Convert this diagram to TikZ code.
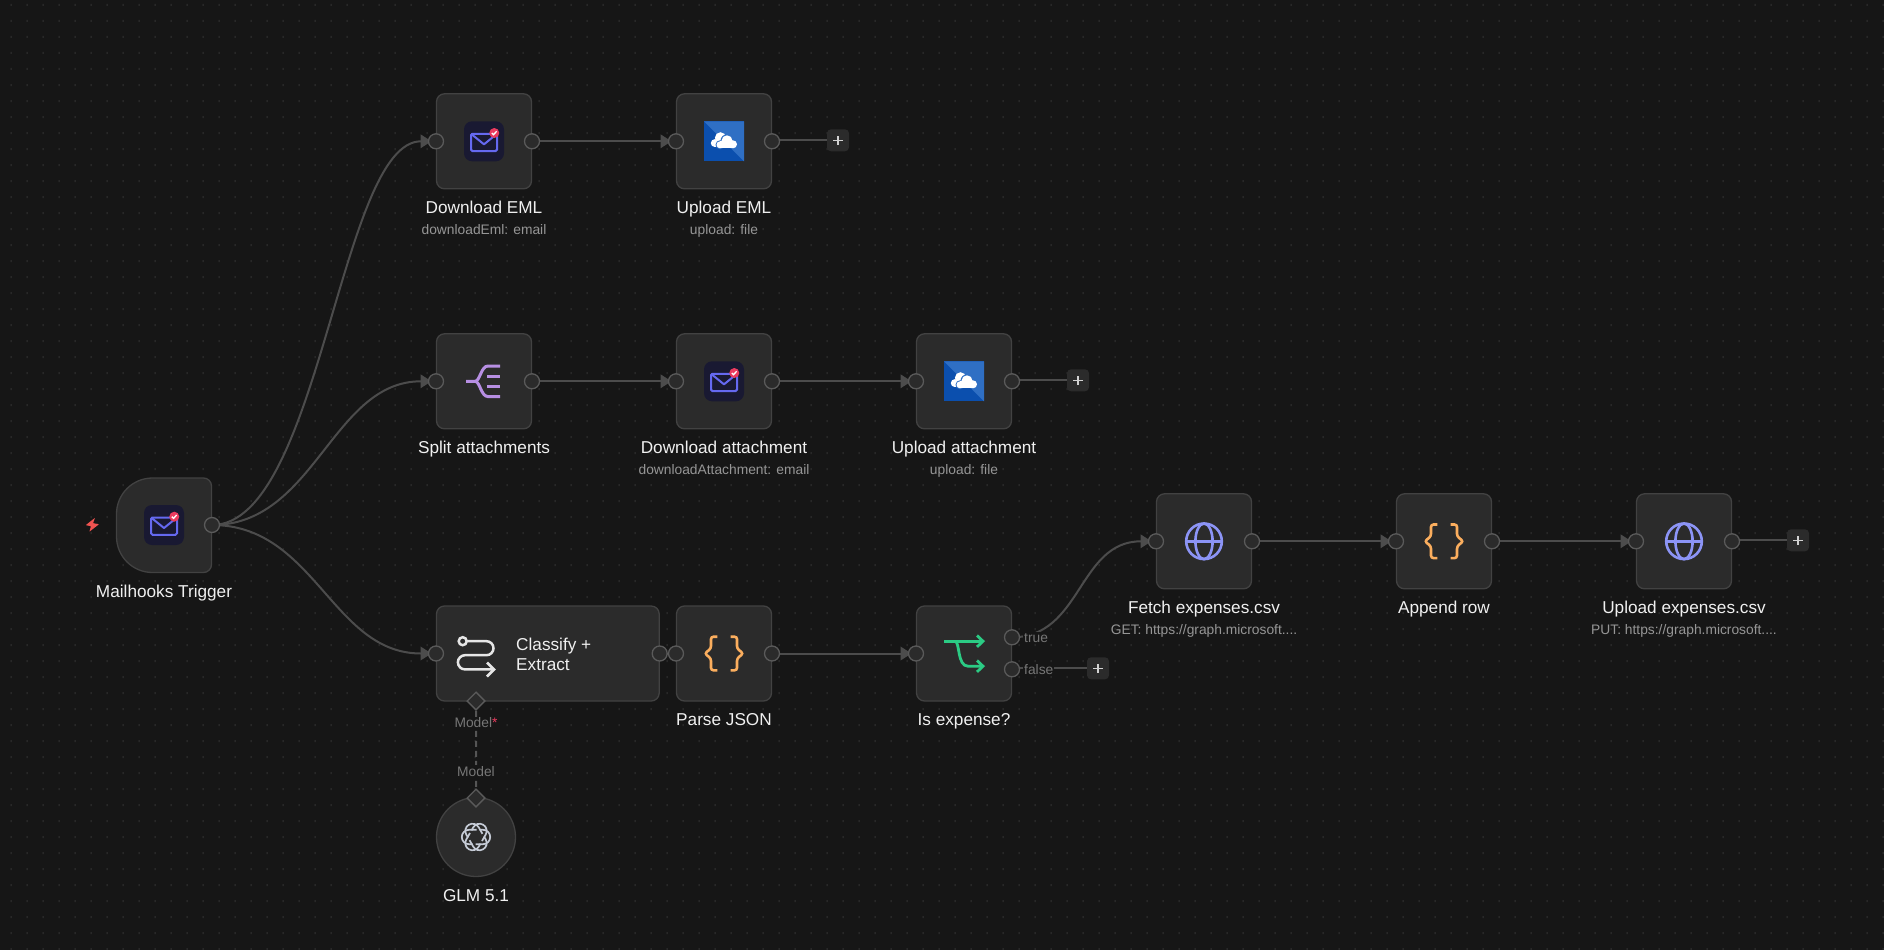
\documentclass[tikz,border=0pt]{standalone}
\usepackage{fontspec}
\setmainfont{Liberation Sans}
\usetikzlibrary{arrows.meta,backgrounds}
\definecolor{canvas}{HTML}{161616}
\definecolor{griddot}{HTML}{333333}
\definecolor{boxfill}{HTML}{2B2B2B}
\definecolor{boxline}{HTML}{424242}
\definecolor{portline}{HTML}{5A5A5A}
\definecolor{wire}{HTML}{4C4C4C}
\definecolor{dashwire}{HTML}{555555}
\definecolor{titletext}{HTML}{F0F0F0}
\definecolor{subtext}{HTML}{969696}
\definecolor{porttext}{HTML}{777777}
\definecolor{mailbg}{HTML}{191932}
\definecolor{mailblue}{HTML}{6569F0}
\definecolor{badge}{HTML}{EB3B5F}
\definecolor{oddark}{HTML}{0B4FAE}
\definecolor{odlight}{HTML}{2F6FC4}
\definecolor{jsonorange}{HTML}{FBAE5E}
\definecolor{globeblue}{HTML}{8C94F6}
\definecolor{splitpurple}{HTML}{B78FE3}
\definecolor{ifgreen}{HTML}{2BCB84}
\definecolor{iconwhite}{HTML}{E6E6E6}
\definecolor{plusmark}{HTML}{D2D2D2}
\definecolor{knot}{HTML}{C5CBD6}
\definecolor{bolt}{HTML}{EF5350}
\newcommand{\titlefont}{\fontsize{17.2}{20}\selectfont}
\newcommand{\subfont}{\fontsize{13.8}{16}\selectfont}
\tikzset{
  x=1pt,y=-1pt,
  nodebox/.style={draw=boxline,fill=boxfill,line width=1.3pt,rounded corners=8pt,inner sep=0pt,outer sep=0pt,minimum width=95pt,minimum height=95pt},
  port/.style={circle,draw=portline,fill=boxfill,line width=1.3pt,minimum size=15pt,inner sep=0pt,outer sep=0pt},
  diam/.style={draw=portline,fill=boxfill,line width=1.3pt},
  title/.style={text=titletext,font=\titlefont,inner sep=0pt,anchor=base},
  subtitle/.style={text=subtext,font=\subfont,inner sep=0pt,anchor=base},
  portlabel/.style={text=porttext,font=\subfont,fill=canvas,inner sep=1pt},
  wireline/.style={draw=wire,line width=2pt},
  arrowed/.style={wireline,shorten >=-3pt,-{Triangle[length=11pt,width=13.5pt,fill=wire]}},
  plusbox/.style={fill=boxfill,rounded corners=4pt,minimum size=22pt,inner sep=0pt,outer sep=0pt,
    path picture={\draw[draw=plusmark,line width=1.6pt] ([xshift=-4.6pt]path picture bounding box.center) -- ([xshift=4.6pt]path picture bounding box.center) ([yshift=-4.6pt]path picture bounding box.center) -- ([yshift=4.6pt]path picture bounding box.center);}},
  mailpic/.pic={
    \fill[mailbg,rounded corners=8pt] (-20,-20) rectangle (20,20);
    \draw[mailblue,line width=2pt,rounded corners=1.5pt] (-13,-7.5) rectangle (13,9.8);
    \draw[mailblue,line width=2pt,line join=round] (-13,-7.5) -- (0,3) -- (13,-7.5);
    \fill[badge] (10.3,-8.3) circle (5);
    \draw[white,line width=1.3pt] (7.8,-8.3) -- (9.6,-6.6) -- (12.6,-10);
  },
  drivepic/.pic={
    \fill[oddark] (-20,-20) rectangle (20,20);
    \fill[odlight] (-20,-20) -- (20,-20) -- (20,20) -- cycle;
    \fill[white] (-3.5,-3.5) circle (5.6) (-9.3,1.8) circle (3.9);
    \fill[white] (-9.3,-1) rectangle (0,5.7);
    \fill[odlight] (3,-0.5) circle (6.5) (9,3) circle (5) (-4,3.5) circle (4.5);
    \fill[white] (3,-0.5) circle (5.5) (9,3) circle (4) (-4,3.5) circle (3.5);
    \fill[white] (-4,0) rectangle (9,7);
  },
  jsonpic/.pic={
    \draw[jsonorange,line width=2.6pt,rounded corners=2.5pt] (-6.6,-16.8) -- (-13,-16.8) -- (-13,-5) -- (-19.3,0) -- (-13,5) -- (-13,16.8) -- (-6.6,16.8);
    \draw[jsonorange,line width=2.6pt,rounded corners=2.5pt] (6.6,-16.8) -- (13,-16.8) -- (13,-5) -- (19.3,0) -- (13,5) -- (13,16.8) -- (6.6,16.8);
  },
  globepic/.pic={
    \draw[globeblue,line width=2.6pt] (0,0) circle (17.8);
    \draw[globeblue,line width=2.6pt] (0,0) ellipse (8.6 and 17.8);
    \draw[globeblue,line width=2.6pt] (-17.8,0) -- (17.8,0);
  },
  splitpic/.pic={
    \draw[splitpurple,line width=3pt] (-18,0) -- (-9,0) .. controls (-4,0) and (-3,-15.3) .. (4,-15.3) -- (16,-15.3);
    \draw[splitpurple,line width=3pt] (-9,0) .. controls (-4,0) and (-3,15.3) .. (4,15.3) -- (16,15.3);
    \draw[splitpurple,line width=3pt] (3,-4.8) -- (16,-4.8) (3,4.8) -- (16,4.8);
  },
  ifpic/.pic={
    \draw[ifgreen,line width=2.8pt] (-20,-12.3) -- (19,-12.3);
    \draw[ifgreen,line width=2.8pt] (-9,-12.3) .. controls (-4,-12) and (-7,12.7) .. (4,12.7) -- (19,12.7);
    \draw[ifgreen,line width=2.8pt,line join=miter] (13,-18) -- (19,-12.3) -- (13,-6.6) (13,7) -- (19,12.7) -- (13,18.4);
  },
  flowpic/.pic={
    \draw[iconwhite,line width=2.5pt] (-13.3,-12.3) circle (4);
    \draw[iconwhite,line width=2.5pt] (-9.3,-12.3) -- (10.5,-12.3) arc[start angle=-90,end angle=90,radius=7] -- (-11,1.7) arc[start angle=270,end angle=90,radius=7.1] -- (18,16);
    \draw[iconwhite,line width=2.5pt] (11,9) -- (18,16) -- (11,23);
  },
  knotpic/.pic={
    \foreach \a in {0,60,...,300}{
      \draw[knot,line width=1.7pt,rotate=\a] (3.5,-7.2) -- (7,-7.2) arc[start angle=-90,end angle=90,radius=7.2] -- (-0.5,7.2);
    }
  },
}
\pgfdeclarelayer{gridlayer}
\pgfdeclarelayer{edgelayer}
\pgfsetlayers{gridlayer,edgelayer,main}
\begin{document}
\begin{tikzpicture}
\useasboundingbox (0,0) rectangle (1884,950);
\begin{pgfonlayer}{gridlayer}
  \fill[canvas] (0,0) rectangle (1884,950);
  \foreach \dy in {5,21,...,949}{
    \fill[griddot] \foreach \dx in {11,27,...,1883}{ (\dx-0.5,\dy-1) rectangle (\dx+0.5,\dy+1) };
  }
\end{pgfonlayer}

% trigger
\draw[draw=boxline,fill=boxfill,line width=1.3pt] (203.5,478) -- (152.5,478) arc[start angle=-90,end angle=-180,radius=36] -- (116.5,536.5) arc[start angle=180,end angle=90,radius=36] -- (203.5,572.5) arc[start angle=90,end angle=0,radius=8] -- (211.5,486) arc[start angle=0,end angle=-90,radius=8] -- cycle;
\coordinate (trigcentre) at (164,525);
\pic at (trigcentre) {mailpic};
\fill[bolt,rounded corners=0.6pt] (95,517.8) -- (85.7,525.2) -- (91,526.2) -- (89.3,531.8) -- (99,524.2) -- (93,523.2) -- cycle;
\node[port] (trigout) at (212,525) {};
\node[title] (trigl) at (164,597.5) {Mailhooks Trigger};

% boxes
\node[nodebox] (dleml) at (484,141.3) {};
\node[nodebox] (upeml) at (724,141.3) {};
\node[nodebox] (split) at (484,381.3) {};
\node[nodebox] (dlatt) at (724,381.3) {};
\node[nodebox] (upatt) at (964,381.3) {};
\node[nodebox,minimum width=222.7pt,anchor=west] (classify) at (436.5,653.5) {};
\node[nodebox] (parse) at (724,653.5) {};
\node[nodebox] (isexp) at (964,653.5) {};
\node[nodebox] (fetch) at (1204,541.3) {};
\node[nodebox] (append) at (1444,541.3) {};
\node[nodebox] (upexp) at (1684,541.3) {};
\node[circle,draw=boxline,fill=boxfill,line width=1.3pt,minimum size=79pt,inner sep=0pt] (glm) at (476,837) {};

% icons
\pic at (dleml) {mailpic};
\pic at (upeml) {drivepic};
\pic at (split) {splitpic};
\pic at (dlatt) {mailpic};
\pic at (upatt) {drivepic};
\pic at (476,653.5) {flowpic};
\pic at (parse) {jsonpic};
\pic at (isexp) {ifpic};
\pic at (fetch) {globepic};
\pic at (append) {jsonpic};
\pic at (upexp) {globepic};
\pic at (glm) {knotpic};

% ports
\foreach \n/\px/\py in {dleml/436/141.3,upeml/676/141.3,split/436/381.3,dlatt/676/381.3,upatt/916/381.3,classify/436/653.5,parse/676/653.5,isexp/916/653.5,fetch/1156/541.3,append/1396/541.3,upexp/1636/541.3}{
  \node[port] (\n-in) at (\px,\py) {};
}
\foreach \n/\px/\py in {dleml/532/141.3,upeml/772/141.3,split/532/381.3,dlatt/772/381.3,upatt/1012/381.3,classify/659.7/653.5,parse/772/653.5,fetch/1252/541.3,append/1492/541.3,upexp/1732/541.3}{
  \node[port] (\n-out) at (\px,\py) {};
}
\node[port] (true) at (1012,637.3) {};
\node[port] (false) at (1012,669.3) {};
\node[diam,shape=rectangle,rotate=45,minimum size=12.5pt,inner sep=0pt] (modelin) at (476,701) {};
\node[diam,shape=rectangle,rotate=45,minimum size=12.5pt,inner sep=0pt] (modelout) at (476,798) {};

% plus buttons
\node[plusbox] (plusa) at (838,140.3) {};
\node[plusbox] (plusb) at (1078,380.3) {};
\node[plusbox] (plusc) at (1098,668.3) {};
\node[plusbox] (plusd) at (1798,540.3) {};

% labels
\node[title] (t1) at (484,213) {Download EML};
\node[subtitle] (s1) at (484,234) {downloadEml: email};
\node[title] (t2) at (724,213) {Upload EML};
\node[subtitle] (s2) at (724,234) {upload: file};
\node[title] (t3) at (484,453) {Split attachments};
\node[title] (t4) at (724,453) {Download attachment};
\node[subtitle] (s4) at (724,474) {downloadAttachment: email};
\node[title] (t5) at (964,453) {Upload attachment};
\node[subtitle] (s5) at (964,474) {upload: file};
\node[title,anchor=base west] (t6a) at (516,650) {Classify +};
\node[title,anchor=base west] (t6b) at (516,670) {Extract};
\node[title] (t7) at (724,725) {Parse JSON};
\node[title] (t8) at (964,725) {Is expense?};
\node[title] (t9) at (1204,613) {Fetch expenses.csv};
\node[subtitle] (s9) at (1204,634) {GET: https://graph.microsoft....};
\node[title] (t10) at (1444,613) {Append row};
\node[title] (t11) at (1684,613) {Upload expenses.csv};
\node[subtitle] (s11) at (1684,634) {PUT: https://graph.microsoft....};
\node[title] (t12) at (476,901) {GLM 5.1};
\node[portlabel] (lm1) at (476,723) {Model\textcolor{badge}{*}};
\node[portlabel] (lm2) at (476,771.5) {Model};
\node[portlabel,anchor=west] (ltrue) at (1023,637.7) {true};
\node[portlabel,anchor=west] (lfalse) at (1023,669.3) {false};

% connectors
\begin{pgfonlayer}{edgelayer}
  \draw[arrowed] (trigout.center) .. controls (320,525) and (340,141.3) .. (dleml-in.west);
  \draw[arrowed] (trigout.center) .. controls (315,525) and (332,381.3) .. (split-in.west);
  \draw[arrowed] (trigout.center) .. controls (315,525) and (332,653.5) .. (classify-in.west);
  \draw[arrowed] (dleml-out) -- (upeml-in.west);
  \draw[arrowed] (split-out) -- (dlatt-in.west);
  \draw[arrowed] (dlatt-out) -- (upatt-in.west);
  \draw[wireline] (classify-out) -- (parse-in);
  \draw[arrowed] (parse-out) -- (isexp-in.west);
  \draw[arrowed] (true.center) .. controls (1082,637.3) and (1078,541.3) .. (fetch-in.west);
  \draw[arrowed] (fetch-out) -- (append-in.west);
  \draw[arrowed] (append-out) -- (upexp-in.west);
  \draw[wireline] (upeml-out |- plusa) -- (plusa);
  \draw[wireline] (upatt-out |- plusb) -- (plusb);
  \draw[wireline] (false |- plusc) -- (plusc);
  \draw[wireline] (upexp-out |- plusd) -- (plusd);
  \draw[draw=dashwire,line width=2pt,dash pattern=on 6pt off 4pt] (modelin) -- (modelout);
\end{pgfonlayer}
\end{tikzpicture}
\end{document}
